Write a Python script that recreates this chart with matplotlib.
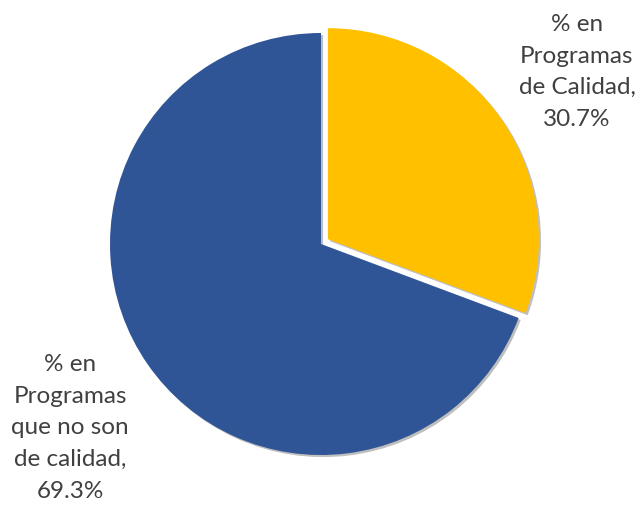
import matplotlib
matplotlib.use("Agg")
import matplotlib.pyplot as plt
import matplotlib.patheffects as pe

labels = ["% en\nProgramas\nde Calidad,\n30.7%", "% en\nProgramas\nque no son\nde calidad,\n69.3%"]
values = [30.7, 69.3]
colors = ["#FFC000", "#2F5597"]

W, H = 640, 505
R = 211.0
cx, cy = 321.0, 244.0

fig = plt.figure(figsize=(6.4, 5.05), dpi=100)
ax = fig.add_axes([0, 0, 1, 1])

wedges, _ = ax.pie(values, colors=colors, startangle=90, counterclock=False,
                   explode=[0.04, 0], radius=1.0, center=(0, 0),
                   wedgeprops=dict(linewidth=0))
for w in wedges:
    w.set_path_effects([pe.SimplePatchShadow(offset=(1.5, -1.5), shadow_rgbFace="#808080", alpha=0.5), pe.Normal()])
ax.set_aspect("auto")
ax.set_xlim(-cx / R, (W - cx) / R)
ax.set_ylim(-(H - cy) / R, cy / R)
ax.axis("off")

def px(x, y):
    return ((x - cx) / R, (cy - y) / R)

tx, ty = px(577, 72)
ax.text(tx, ty, labels[0], ha="center", va="center", fontsize=17.5, color="#404040",
        family="Lato", linespacing=1.62)
tx, ty = px(70, 428)
ax.text(tx, ty, labels[1], ha="center", va="center", fontsize=17.5, color="#404040",
        family="Lato", linespacing=1.62)

fig.savefig("out.png", dpi=100)
